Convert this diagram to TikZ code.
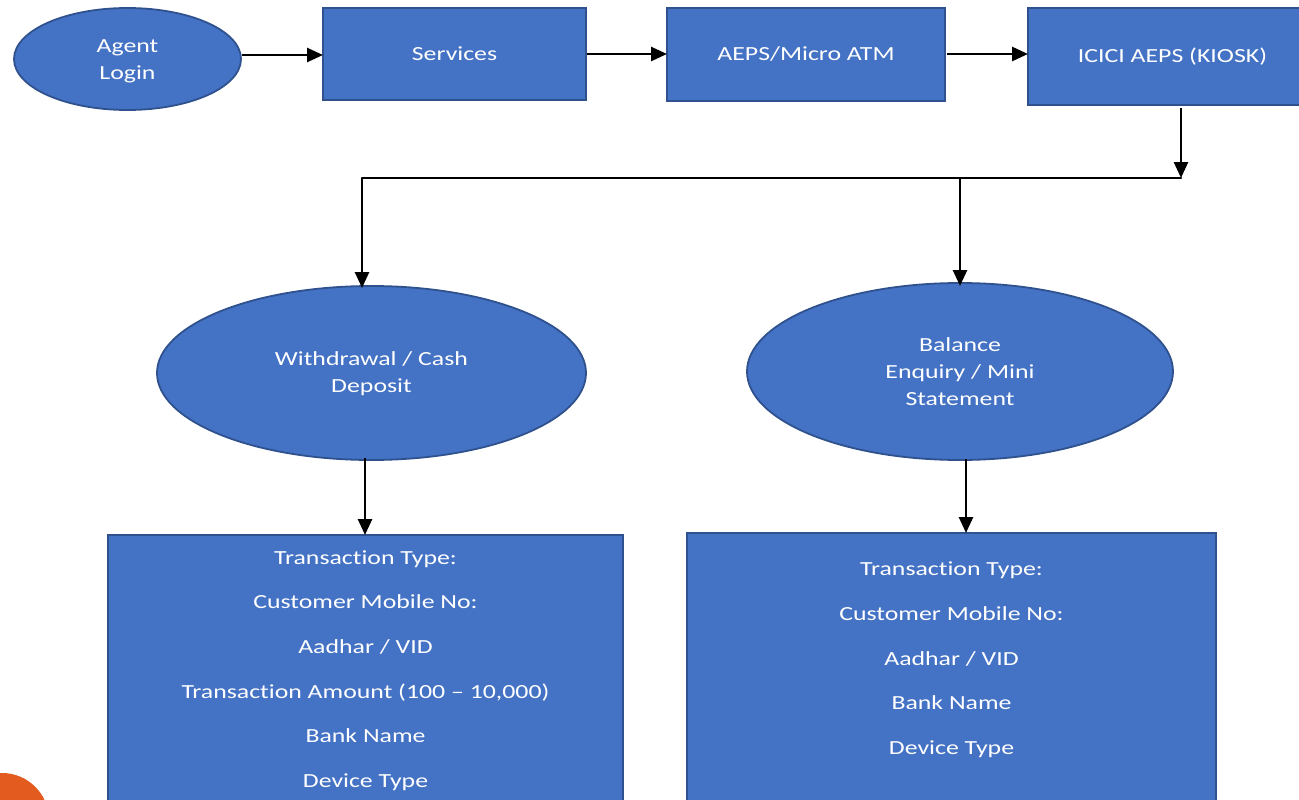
\documentclass[tikz,border=0pt]{standalone}
\usepackage{fontspec}
\setmainfont[FakeStretch=1.29,Ligatures=CommonOff]{Carlito}
\usetikzlibrary{arrows.meta,shapes.geometric}
\definecolor{fillblue}{HTML}{4472C4}
\definecolor{edgeblue}{HTML}{2F528F}
\definecolor{dot}{HTML}{E35B1E}
\newcommand{\movedlines}[2]{\raisebox{#1}[\height][\depth]{\begin{tabular}{@{}c@{}}#2\end{tabular}}}
\tikzset{
  x=1pt,y=-1pt,
  base/.style={draw=edgeblue,line width=1.8pt,fill=fillblue,text=white,align=center,inner sep=0pt,outer sep=0pt},
  oval/.style={base,ellipse,font=\fontsize{20}{26.7}\selectfont},
  boxs/.style={base,rectangle,font=\fontsize{20}{26.5}\selectfont},
  listbox/.style={base,rectangle,font=\fontsize{20}{44.7}\selectfont},
  link/.style={draw=black,line width=2.6pt,-{Triangle[length=16pt,width=14pt]}},
  plain/.style={draw=black,line width=2.6pt,line cap=round},
}
\begin{document}
\begin{tikzpicture}
\useasboundingbox (0,0) rectangle (1299,800);
\clip (0,0) rectangle (1299,800);
\node[circle,fill=dot,minimum size=94pt,inner sep=0pt] (dotshape) at (2,820) {};
\node[oval,minimum width=227pt,minimum height=102pt] (agent) at (127.5,59) {\movedlines{-1.5pt}{Agent\\Login}};
\node[boxs,minimum width=263pt,minimum height=92pt] (services) at (454.5,54) {Services};
\node[boxs,minimum width=278pt,minimum height=93pt] (aeps) at (806,54.5) {\movedlines{-0.3pt}{AEPS/Micro ATM}};
\node[boxs,minimum width=289pt,minimum height=97pt] (icici) at (1172.5,56.5) {ICICI AEPS (KIOSK)};
\node[oval,minimum width=429pt,minimum height=174pt] (withdraw) at (371.5,373) {\movedlines{-1pt}{Withdrawal / Cash\\Deposit}};
\node[oval,minimum width=426pt,minimum height=177pt] (balance) at (960,371.5) {Balance\\Enquiry / Mini\\Statement};
\node[listbox,minimum width=515pt,minimum height=271pt] (listl) at (365.5,670.5) {Transaction Type:\\Customer Mobile No:\\Aadhar / VID\\Transaction Amount (100 – 10,000)\\Bank Name\\Device Type};
\node[listbox,minimum width=529pt,minimum height=295pt] (listr) at (951.5,680.5) {Transaction Type:\\Customer Mobile No:\\Aadhar / VID\\Bank Name\\Device Type\\\mbox{}};
\coordinate (a1) at (242,55);
\coordinate (a2) at (587,54);
\coordinate (a3) at (947,54);
\coordinate (a4) at (1181,108);
\coordinate (j3) at (1181,178);
\coordinate (j1) at (362,178);
\coordinate (j2) at (960,177);
\coordinate (a5) at (365,458);
\coordinate (a6) at (966,459);
\coordinate (t1) at (362,288);
\coordinate (t2) at (960,286);
\draw[link] (a1) -- (services.west |- a1);
\draw[link] (a2) -- (aeps.west |- a2);
\draw[link] (a3) -- (icici.west |- a3);
\draw[link] (a4) -- (j3);
\draw[plain] (j1) -- (j3);
\draw[link] (j1) -- (t1);
\draw[link] (j2) -- (t2);
\draw[link] (a5) -- (a5 |- listl.north);
\draw[link] (a6) -- (a6 |- listr.north);
\end{tikzpicture}
\end{document}
